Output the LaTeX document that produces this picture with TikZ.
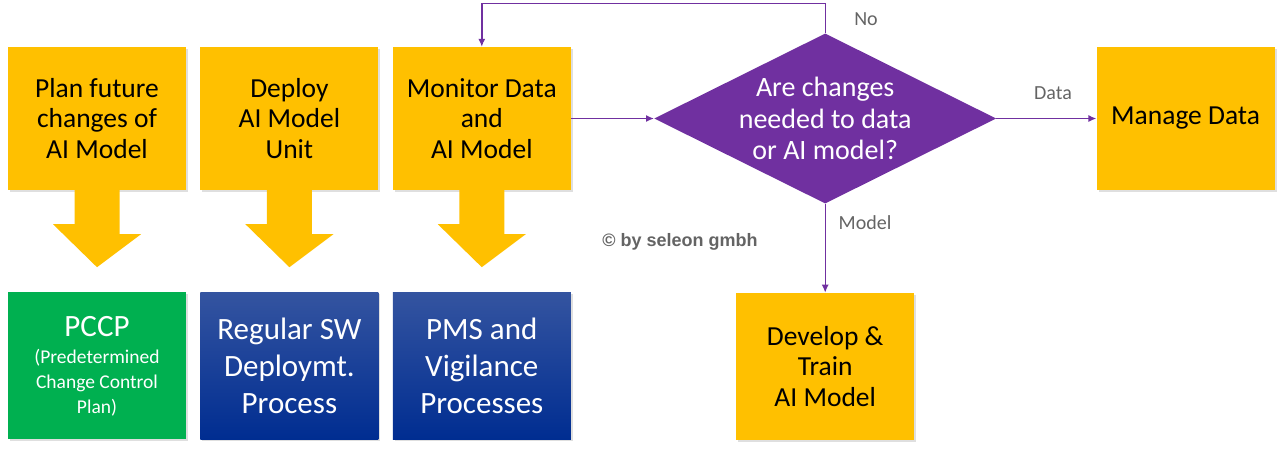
\documentclass[tikz,border=0pt]{standalone}
\usepackage{fontspec}
\setmainfont{Carlito}
\newfontfamily\credfont{Liberation Sans}
\usetikzlibrary{shapes.geometric, arrows.meta, positioning, shadows}
\usepackage{xcolor}
\definecolor{gold}{RGB}{255,192,0}
\definecolor{pccpgreen}{RGB}{0,176,80}
\definecolor{bluetop}{RGB}{52,84,160}
\definecolor{bluebot}{RGB}{0,45,145}
\definecolor{violet}{RGB}{112,48,160}
\definecolor{labelgray}{RGB}{100,100,100}
\newcommand\subtxt{\fontsize{19.5}{25}\selectfont}

\begin{document}
\begin{tikzpicture}[
    x=1pt, y=1pt,
    box/.style={rectangle, minimum width=178pt, minimum height=143pt, inner sep=2pt, align=center,
        font=\fontsize{27.5}{30.5}\selectfont, drop shadow={opacity=0.25, shadow xshift=2pt, shadow yshift=-2pt}},
    taskbox/.style={box, fill=gold, text=black},
    procbox/.style={box, minimum height=147pt, text=white, font=\fontsize{31}{37}\selectfont},
    decision/.style={diamond, fill=violet, text=white, minimum width=342pt, minimum height=170pt,
        aspect=2, inner sep=-3pt, align=center, font=\fontsize{28}{31.5}\selectfont},
    flow/.style={-{Latex[length=8pt, width=7pt]}, violet, line width=1.4pt},
    fatarrow/.style={fill=gold},
    edgelabel/.style={text=labelgray, font=\fontsize{20}{22}\selectfont}
]
\useasboundingbox (0,0) rectangle (1280,-453);

% top row
\node[taskbox] (plan) at (97,-118.5) {Plan future\\changes of\\AI Model};
\node[taskbox, right=14pt of plan] (deploy) {Deploy\\AI Model\\Unit};
\node[taskbox, right=14pt of deploy] (monitor) {Monitor Data\\and\\AI Model};

% bottom row
\node[procbox, fill=pccpgreen, below=102pt of plan] (pccp) {PCCP\\[-10pt]\subtxt (Predetermined\\[-12pt]\subtxt Change Control\\[-12pt]\subtxt Plan)};
\node[procbox, top color=bluetop, bottom color=bluebot, below=102pt of deploy] (regular) {Regular SW\\Deploymt.\\Process};
\node[procbox, top color=bluetop, bottom color=bluebot, below=102pt of monitor] (pms) {PMS and\\Vigilance\\Processes};

% decision and outcomes
\node[decision, right=83pt of monitor] (check) {Are changes\\needed to data\\or AI model?};
\node[taskbox, right=100pt of check] (manage) {Manage Data};
\node[taskbox, minimum height=147pt, below=89pt of check] (develop) {Develop \&\\Train\\AI Model};

% fat arrows down
\foreach \a in {plan, deploy, monitor} {
    \fill[fatarrow] ([xshift=-22.5pt]\a.south) -- ++(0,-34) -- ++(-21.5,0)
        -- ([yshift=-77pt]\a.south) -- ++(44,33) -- ++(-21.5,0) -- ([xshift=22.5pt]\a.south) -- cycle;
}

\draw[flow] (monitor.east) -- (check.west);
\draw[flow] (check.north) -- ++(0,30) -| (monitor.north);
\draw[flow] (check.east) -- (manage.west);
\draw[flow] (check.south) -- (develop.north);

\node[edgelabel] (nolabel) at (866,-19) {No};
\node[edgelabel] (datalabel) at (1053,-93) {Data};
\node[edgelabel] (modellabel) at (865,-223) {Model};
\node[text=labelgray, font=\credfont\bfseries\fontsize{18}{20}\selectfont] (credit) at (680,-242) {© by seleon gmbh};
\end{tikzpicture}
\end{document}
